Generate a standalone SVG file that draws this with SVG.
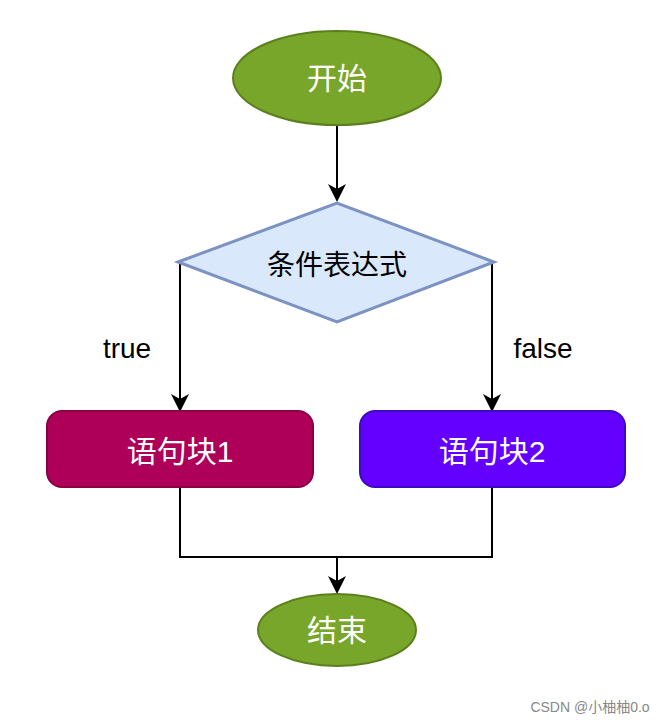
<svg xmlns="http://www.w3.org/2000/svg" width="669" height="724" viewBox="0 0 669 724">
<style>
.t{font-family:"Liberation Sans","Noto Sans CJK SC",sans-serif;text-anchor:middle;dominant-baseline:central}
.w{fill:#fff;font-size:30px}
.c{stroke:#000;stroke-width:2;fill:none}
</style>
<defs><marker id="a" markerWidth="10" markerHeight="10" refX="9" refY="5" orient="auto" markerUnits="userSpaceOnUse" viewBox="0 0 10 10"><path d="M0,0L10,5L0,10L3,5Z" fill="#000"/></marker>
<marker id="b" markerWidth="18" markerHeight="18" refX="16" refY="9" orient="auto" markerUnits="userSpaceOnUse" viewBox="0 0 18 18"><path d="M0,0L18,9L0,18L5,9Z" fill="#000"/></marker></defs>
<rect width="669" height="724" fill="#fff"/>
<g id="connectors">
<path class="c" d="M337,125V200" marker-end="url(#b)"/>
<path class="c" d="M180,262V410" marker-end="url(#b)"/>
<path class="c" d="M492,262V410" marker-end="url(#b)"/>
<path class="c" d="M180,487V557H492V487"/>
<path class="c" d="M337,557V592" marker-end="url(#b)"/>
<text class="t" x="127" y="348" font-size="28">true</text>
<text class="t" x="543" y="348" font-size="28">false</text>
</g>
<g id="start"><ellipse cx="337" cy="78" rx="104" ry="47" fill="#78a62a" stroke="#5b7f1d" stroke-width="2"/><text class="t w" x="337" y="78">开始</text></g>
<g id="cond"><path d="M178,262L337,203L494,262L337,322Z" fill="#dae8fc" stroke="#7b92c2" stroke-width="3"/><text class="t" x="337" y="265" font-size="28">条件表达式</text></g>
<g id="b1"><rect x="47" y="411" width="266" height="76" rx="15" fill="#ae0059" stroke="#8a0046" stroke-width="2"/><text class="t w" x="180" y="451">语句块1</text></g>
<g id="b2"><rect x="360" y="411" width="265" height="76" rx="15" fill="#6300ff" stroke="#3a0bbf" stroke-width="2"/><text class="t w" x="492" y="451">语句块2</text></g>
<g id="end"><ellipse cx="337" cy="630" rx="79" ry="36" fill="#78a62a" stroke="#5b7f1d" stroke-width="2"/><text class="t w" x="337" y="630">结束</text></g>
<text class="t" x="590" y="707" font-size="14" fill="#888">CSDN @小柚柚0.o</text>
</svg>
